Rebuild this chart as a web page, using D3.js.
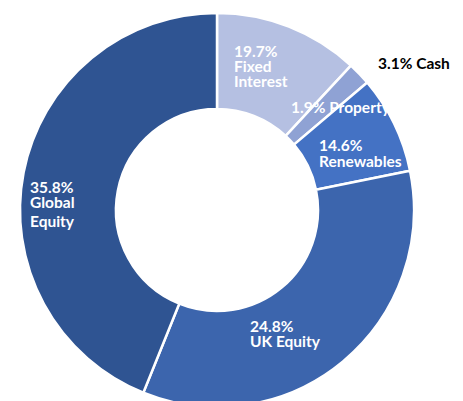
<!DOCTYPE html>
<html>
<head>
<meta charset="utf-8">
<script src="https://cdn.jsdelivr.net/npm/d3@7"></script>
<style>
html,body{margin:0;padding:0;background:#fff;}
svg{display:block;}
text{font-family:Lato,"Liberation Sans",sans-serif;font-weight:bold;}
</style>
</head>
<body>
<svg id="chart" width="463" height="401"></svg>
<script>
// Slices as drawn (clockwise from 12 o'clock)
const categories = ["Fixed Interest", "Property", "Renewables", "UK Equity", "Global Equity"];
const sliceValues = [11.9, 1.9, 8.0, 34.3, 43.9];
const colors = ["#B5C0E2", "#8FA2D4", "#4472C4", "#3C65AD", "#2F5492"];
// Label texts shown on the chart
const labelPercents = ["19.7%", "1.9%", "14.6%", "24.8%", "35.8%"];
const labelNames = ["Fixed Interest", "Property", "Renewables", "UK Equity", "Global Equity"];
const cashLabel = "3.1% Cash";

const svg = d3.select("#chart");
const cx = 217, cy = 210, R = 197, r = 101;
const g = svg.append("g").attr("transform", `translate(${cx},${cy})`);

const pie = d3.pie().sort(null).value(d => d.v).startAngle(0).endAngle(2 * Math.PI);
const arc = d3.arc().innerRadius(r).outerRadius(R);
const data = categories.map((c, i) => ({c, v: sliceValues[i], col: colors[i]}));

g.selectAll("path").data(pie(data)).join("path")
  .attr("d", arc)
  .attr("fill", d => d.data.col)
  .attr("stroke", "#fff")
  .attr("stroke-width", 2.5)
  .attr("stroke-linejoin", "miter");

// label layout (lines per label, position)
const fs = 15.5;
const layouts = [
  {x: 234, y: 57, lines: [labelPercents[0], "Fixed", "Interest"], lh: 15},
  {x: 291, y: 113, lines: [labelPercents[1] + " " + labelNames[1]], lh: 15},
  {x: 319, y: 151, lines: [labelPercents[2], labelNames[2]], lh: 16},
  {x: 250, y: 332, lines: [labelPercents[3], labelNames[3]], lh: 14.5},
  {x: 30, y: 193, lines: [labelPercents[4], "Global", "Equity"], lh: [15, 19]}
];
layouts.forEach(L => {
  const t = svg.append("text").attr("x", L.x).attr("y", L.y)
    .attr("fill", "#fff").attr("font-size", fs);
  let y = L.y;
  L.lines.forEach((ln, i) => {
    if (i > 0) y += Array.isArray(L.lh) ? L.lh[i - 1] : L.lh;
    t.append("tspan").attr("x", L.x).attr("y", y).text(ln);
  });
});
svg.append("text").attr("x", 378).attr("y", 69)
  .attr("fill", "#000").attr("font-size", fs).text(cashLabel);
</script>
</body>
</html>
